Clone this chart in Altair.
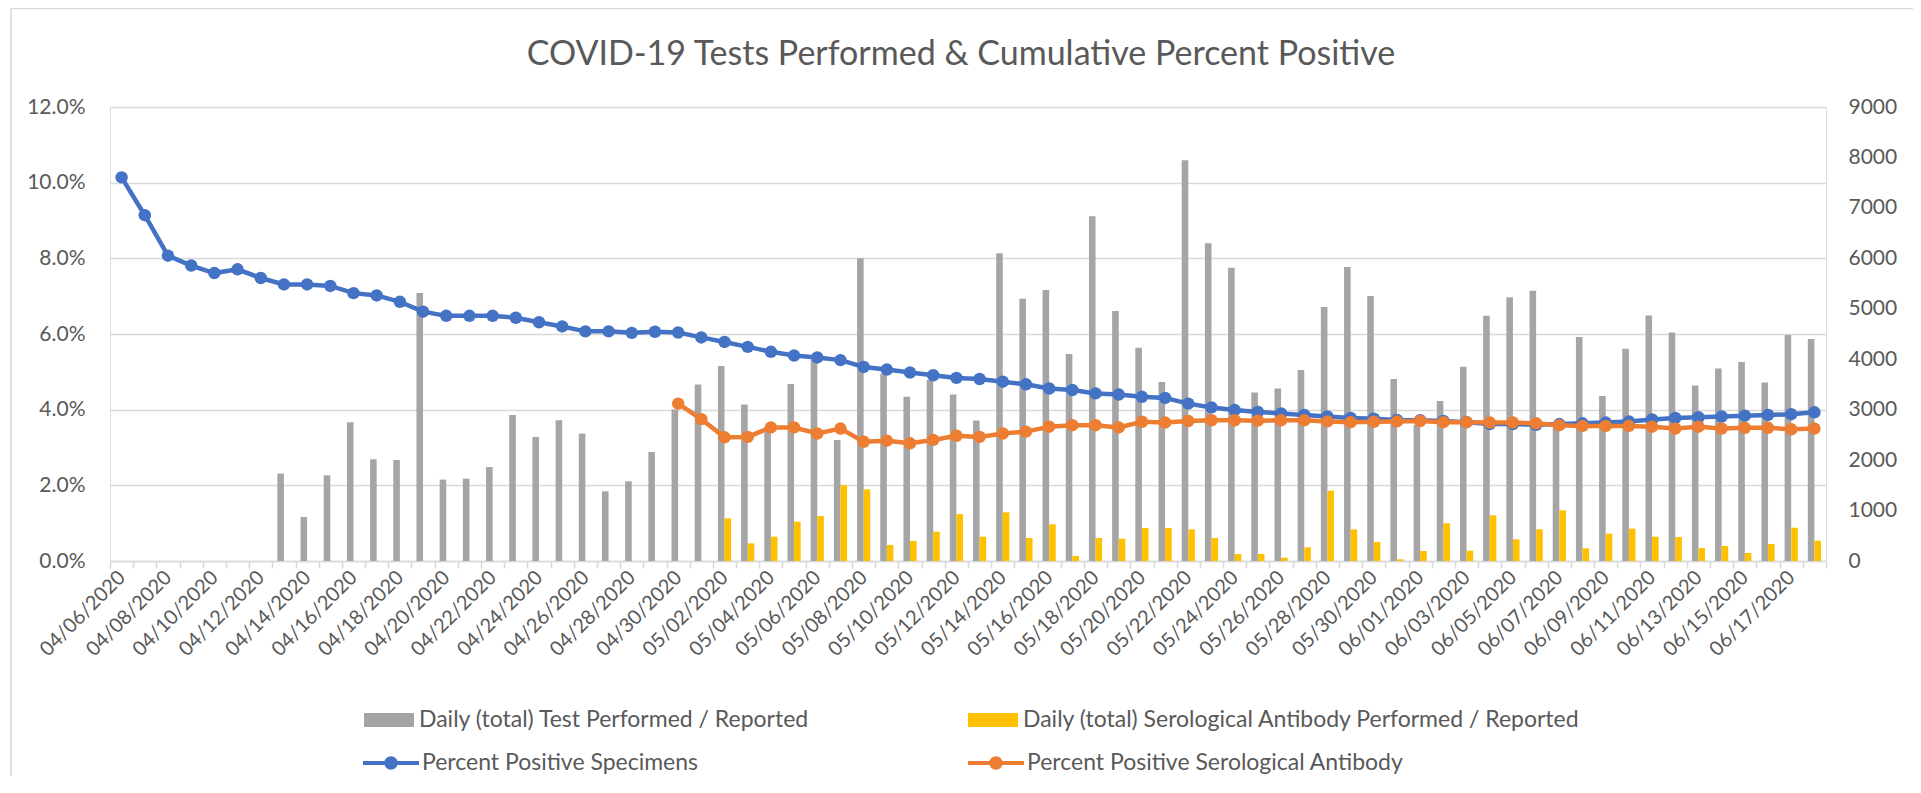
import json
import altair as alt
import pandas as pd

# ---------------- data ----------------
dates = pd.date_range("2020-04-06", periods=74, freq="D").strftime("%m/%d/%Y").tolist()

tests = [None] * 7 + [
    1732, 872, 1699, 2750, 2016, 2003, 5314, 1613, 1633, 1864, 2895, 2459, 2789, 2525, 1381, 1580, 2161,
    3005, 3501, 3864, 3104, 2650, 3507, 3983, 2398, 6004, 3719, 3256, 3587,
    3302, 2787, 6103, 5198, 5370, 4102, 6836, 4954, 4227, 3547, 7946, 6301, 5812,
    3342, 3421, 3785, 5033, 5826, 5251, 3606, 2700, 3170, 3851, 4861, 5231, 5357,
    2650, 4439, 3269, 4207, 4868, 4531, 3481, 3818, 3943, 3540, 4478, 4399,
]

serology = [None] * 26 + [
    845, 350, 482, 779, 892, 1506, 1420, 317, 396, 581, 931,
    482, 964, 456, 727, 99, 456, 442, 654, 654, 627, 456, 139,
    139, 66, 271, 1394, 627, 376, 33, 198, 746, 205, 905, 429,
    627, 1004, 251, 542, 641, 482, 476, 258, 297, 159, 337, 660, 403,
]

pct_specimens = [
    10.14, 9.14, 8.07, 7.81, 7.61, 7.71, 7.48, 7.31, 7.31, 7.27,
    7.08, 7.02, 6.85, 6.59, 6.48, 6.48, 6.48, 6.43, 6.31, 6.20,
    6.07, 6.07, 6.03, 6.06, 6.04, 5.91, 5.79, 5.66, 5.53, 5.43,
    5.38, 5.31, 5.13, 5.06, 4.98, 4.91, 4.84, 4.81, 4.74, 4.67,
    4.56, 4.52, 4.43, 4.40, 4.34, 4.31, 4.16, 4.06, 3.99, 3.94,
    3.90, 3.86, 3.82, 3.78, 3.76, 3.73, 3.72, 3.70, 3.67, 3.62,
    3.62, 3.60, 3.62, 3.64, 3.66, 3.69, 3.74, 3.78, 3.80, 3.82,
    3.84, 3.86, 3.88, 3.93,
]

pct_serology = [None] * 24 + [
    4.16, 3.75, 3.27, 3.28, 3.53, 3.53, 3.37, 3.50, 3.15, 3.18,
    3.11, 3.20, 3.31, 3.28, 3.37, 3.42, 3.55, 3.59, 3.59, 3.53,
    3.68, 3.66, 3.70, 3.72, 3.72, 3.71, 3.72, 3.72, 3.69, 3.67,
    3.68, 3.69, 3.70, 3.67, 3.67, 3.66, 3.66, 3.64, 3.59, 3.57,
    3.57, 3.57, 3.55, 3.50, 3.55, 3.50, 3.52, 3.52, 3.48, 3.50,
]

TITLE = "COVID-19 Tests Performed & Cumulative Percent Positive"
BAR_A = "Daily (total) Test Performed / Reported"
BAR_B = "Daily (total) Serological Antibody Performed / Reported"
LINE_A = "Percent Positive Specimens"
LINE_B = "Percent Positive Serological Antibody"

bars_df = pd.DataFrame({
    "date": dates * 2,
    "series": [BAR_A] * len(dates) + [BAR_B] * len(dates),
    "value": tests + serology,
}).dropna()

lines_df = pd.DataFrame({
    "date": dates * 2,
    "series": [LINE_A] * len(dates) + [LINE_B] * len(dates),
    "pct": [None if v is None else v / 100 for v in pct_specimens + pct_serology],
}).dropna()

# ---------------- styling ----------------
FONT = "Lato"
TXT = "#595959"
GRID = "#d9d9d9"
W, H = 1716, 454

labeled = json.dumps(dates[::2])
x_enc = alt.X(
    "date:O",
    sort=dates,
    scale=alt.Scale(domain=dates, paddingInner=0, paddingOuter=0),
    axis=alt.Axis(
        title=None, labelAngle=315, labelAlign="right", labelBaseline="middle",
        labelPadding=6, labelOverlap=False, labelFont=FONT, labelFontSize=20,
        labelColor=TXT, labelExpr=f"indexof({labeled}, datum.value) >= 0 ? datum.label : ''",
        tickBand="extent", tickSize=7, tickColor=GRID, tickWidth=1.5,
        domainColor=GRID, domainWidth=1.5, grid=False,
    ),
)

bars = alt.Chart(bars_df).mark_bar().encode(
    x=x_enc,
    xOffset=alt.XOffset("series:N", sort=[BAR_A, BAR_B],
                        scale=alt.Scale(domain=[BAR_A, BAR_B], paddingInner=0, paddingOuter=0.76)),
    y=alt.Y("value:Q", scale=alt.Scale(domain=[0, 9000]),
            axis=alt.Axis(orient="right", title=None, values=list(range(0, 9001, 1000)),
                          format="d", grid=False, domain=False, ticks=False, labelPadding=22,
                          labelFont=FONT, labelFontSize=21, labelColor=TXT)),
    fill=alt.Fill("series:N",
                  scale=alt.Scale(domain=[BAR_A, BAR_B], range=["#A5A5A5", "#FFC000"]),
                  legend=alt.Legend(title=None, orient="none", legendX=254, legendY=588,
                                    direction="horizontal", padding=0,
                                    symbolType="M-1,-0.28H1V0.28H-1Z", symbolSize=2500,
                                    symbolStrokeWidth=0, labelFont=FONT, labelFontSize=23,
                                    labelColor=TXT, labelOffset=5, labelLimit=900,
                                    columnPadding=158)),
)

line_symbol = ("M-1,-0.075H1V0.075H-1Z "
               "M0.24,0A0.24,0.24 0 1,1 -0.24,0A0.24,0.24 0 1,1 0.24,0Z")

base = alt.Chart(lines_df).encode(
    x=x_enc,
    y=alt.Y("pct:Q", scale=alt.Scale(domain=[0, 0.12]),
            axis=alt.Axis(orient="left", title=None, format=".1%",
                          values=[0, 0.02, 0.04, 0.06, 0.08, 0.10, 0.12],
                          grid=True, gridColor=GRID, gridWidth=1.5, domain=False, ticks=False,
                          labelPadding=25, labelFont=FONT, labelFontSize=21, labelColor=TXT)),
    color=alt.Color("series:N",
                    scale=alt.Scale(domain=[LINE_A, LINE_B], range=["#4472C4", "#ED7D31"]),
                    legend=alt.Legend(title=None, orient="none", legendX=253, legendY=628,
                                      direction="horizontal", padding=0,
                                      symbolType=line_symbol, symbolSize=3136,
                                      symbolStrokeWidth=0, labelFont=FONT, labelFontSize=23,
                                      labelColor=TXT, labelOffset=3, labelLimit=900,
                                      columnPadding=269)),
)

line_layers = []
for s in [LINE_A, LINE_B]:
    sub = base.transform_filter(alt.datum.series == s)
    line_layers.append(sub.mark_line(strokeWidth=4.5))
    line_layers.append(sub.mark_circle(size=155, opacity=1))
lines = alt.layer(*line_layers)

deco = alt.Chart(pd.DataFrame({"title": [TITLE]}))
border = deco.mark_rect(fillOpacity=0, stroke=GRID, strokeWidth=1.5).encode(
    x=alt.value(-99), x2=alt.value(1804), y=alt.value(-98.5), y2=alt.value(800))
title = deco.mark_text(font=FONT, fontSize=34, color=TXT, align="center",
                       baseline="middle").encode(
    text="title:N", x=alt.value(W / 2 - 7), y=alt.value(-52))

chart = alt.layer(border, title, bars, lines).resolve_scale(
    y="independent", fill="independent", color="independent"
).properties(
    width=W, height=H,
    autosize=alt.AutoSizeParams(type="none"),
    padding={"left": 102, "top": 99, "right": 87, "bottom": 215},
).configure_view(stroke=None).configure(background="white")

chart.save("out.html", embed_options={"renderer": "svg", "actions": False})
